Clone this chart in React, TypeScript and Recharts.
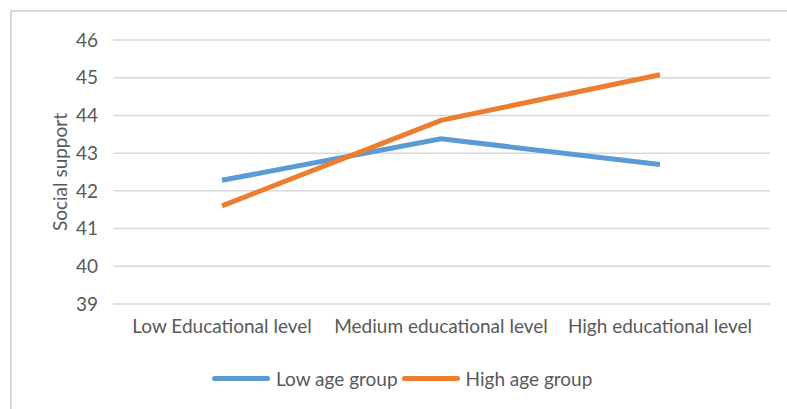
import { LineChart, Line, XAxis, YAxis, CartesianGrid } from "recharts";

const categories = ["Low Educational level", "Medium educational level", "High educational level"];
const lowAge = [42.28, 43.38, 42.7];
const highAge = [41.6, 43.87, 45.08];
const yTicks = [39, 40, 41, 42, 43, 44, 45, 46];

const seriesNames = { low: "Low age group", high: "High age group" };
const colors = { low: "#5B9BD5", high: "#ED7D31" };

const data = categories.map((cat, i) => ({ cat, low: lowAge[i], high: highAge[i] }));

const font = "Lato, 'Open Sans', sans-serif";
const textColor = "#595959";

function LegendRow() {
  const items = [
    { key: "low", label: seriesNames.low, color: colors.low },
    { key: "high", label: seriesNames.high, color: colors.high },
  ];
  return (
    <div
      style={{
        position: "absolute",
        top: 367,
        left: 212,
        display: "flex",
        alignItems: "center",
        fontFamily: font,
        fontSize: 19,
        color: textColor,
      }}
    >
      {items.map((it) => (
        <div key={it.key} style={{ display: "flex", alignItems: "center", marginRight: 4 }}>
          <div style={{ width: 58, height: 5, borderRadius: 3, background: it.color, marginRight: 6 }} />
          <span>{it.label}</span>
        </div>
      ))}
    </div>
  );
}

export default function App() {
  return (
    <div style={{ position: "absolute", left: 0, top: 0, width: 787, height: 409, background: "#fff" }}>
      <div
        style={{
          position: "absolute",
          left: 10,
          top: 10,
          width: 777,
          height: 399,
          borderLeft: "2px solid #d9d9d9",
          borderTop: "2px solid #d9d9d9",
        }}
      />
      <div style={{ position: "absolute", left: 0, top: 0 }}>
        <LineChart width={787} height={409} data={data} margin={{ top: 40, right: 17, left: 53, bottom: 75 }}>
          <CartesianGrid vertical={false} stroke="#d9d9d9" strokeWidth={1.5} />
          <XAxis
            dataKey="cat"
            axisLine={false}
            tickLine={false}
            padding={{ left: 109, right: 110 }}
            tickMargin={10}
            height={30}
            interval={0}
            tick={{ fill: textColor, fontSize: 19, fontFamily: font }}
          />
          <YAxis
            domain={[39, 46]}
            ticks={yTicks}
            axisLine={false}
            tickLine={false}
            width={60}
            tickMargin={9}
            tick={{ fill: textColor, fontSize: 19, fontFamily: font }}
            label={{
              value: "Social support",
              angle: -90,
              position: "center",
              dx: -23,
              style: { fill: textColor, fontSize: 19, fontFamily: font, textAnchor: "middle" },
            }}
          />
          <Line
            dataKey="low"
            name={seriesNames.low}
            stroke={colors.low}
            strokeWidth={5}
            dot={false}
            activeDot={false}
            isAnimationActive={false}
          />
          <Line
            dataKey="high"
            name={seriesNames.high}
            stroke={colors.high}
            strokeWidth={5}
            dot={false}
            activeDot={false}
            isAnimationActive={false}
          />
        </LineChart>
      </div>
      <LegendRow />
    </div>
  );
}
